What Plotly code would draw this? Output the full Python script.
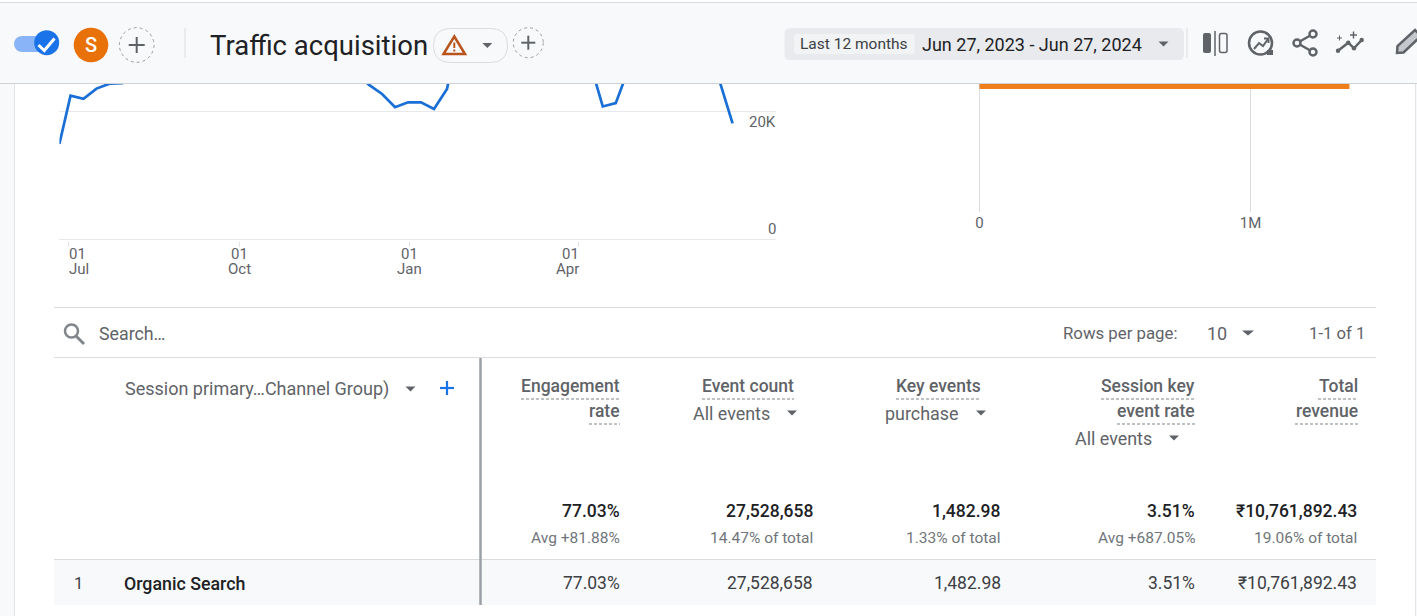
## GA4 traffic acquisition screen rebuilt with plotly
import pandas as pd
import plotly.graph_objects as go

W, H = 1417, 616
FONT = "Roboto"
GREY = "#5f6368"
DARK = "#202124"
RULE = "#dadce0"

## weekly sessions, the hidden stretches run behind the sticky header
week_dates = ["2023-06-26"] + [str(d.date()) for d in pd.date_range("2023-07-02", periods=52, freq="7D")]
week_sessions = [14900, 22450, 21950, 23550, 24300, 24400,
                 26000, 27500, 28500, 29500, 30500, 31000, 30500, 31500, 32000, 33000, 34500, 35000, 33500, 32000,
                 30500, 28500, 27000, 26000,
                 24110, 22700, 20625, 21400, 21400, 20360, 23480,
                 33000, 34000, 33500, 32000, 33000, 33500, 34000, 33000, 31000, 29000,
                 27730, 20750, 21270, 26700,
                 29500, 31500, 32500, 32000, 30000, 27500,
                 24700, 18100]

month_ticks = ["2023-07-01", "2023-10-01", "2024-01-01", "2024-04-01"]
month_days = ["01", "01", "01", "01"]
month_names = ["Jul", "Oct", "Jan", "Apr"]
month_anchor = ["left", "center", "center", "right"]

session_ticks = [0, 20000]
session_labels = ["0", "20K"]

channels = ["Organic Search"]
channel_sessions = [1365000]
bar_ticks = [0, 1000000]
bar_labels = ["0", "1M"]

total_values = ["77.03%", "27,528,658", "1,482.98", "3.51%", "₹10,761,892.43"]
total_notes = ["Avg +81.88%", "14.47% of total", "1.33% of total", "Avg +687.05%", "19.06% of total"]
row_values = ["77.03%", "27,528,658", "1,482.98", "3.51%", "₹10,761,892.43"]
column_right = [620, 813, 1001, 1195, 1357]


def px(x):
    return x / W


def py(y):
    return 1 - y / H


shapes = []
notes = []


def rect(x0, y0, x1, y1, fill, line=None, layer="above"):
    shapes.append(dict(type="rect", xref="paper", yref="paper", x0=px(x0), x1=px(x1), y0=py(y0), y1=py(y1),
                       fillcolor=fill, line=dict(color=line or fill, width=1 if line else 0), layer=layer))


def line(x0, y0, x1, y1, color=GREY, width=2, dash="solid"):
    shapes.append(dict(type="line", xref="paper", yref="paper", x0=px(x0), x1=px(x1), y0=py(y0), y1=py(y1),
                       line=dict(color=color, width=width, dash=dash)))


def circle(cx, cy, r, fill="rgba(0,0,0,0)", color=None, width=0, dash="solid"):
    shapes.append(dict(type="circle", xref="paper", yref="paper", x0=px(cx - r), x1=px(cx + r), y0=py(cy - r), y1=py(cy + r),
                       fillcolor=fill, line=dict(color=color or fill, width=width, dash=dash)))


def poly(points, fill=None, color=GREY, width=2, close=False):
    path = "M" + " L".join(f"{px(x):.5f},{py(y):.5f}" for x, y in points) + (" Z" if close else "")
    shapes.append(dict(type="path", xref="paper", yref="paper", path=path, fillcolor=fill or "rgba(0,0,0,0)",
                       line=dict(color=color, width=width)))


def round_rect(x0, y0, x1, y1, r, fill="rgba(0,0,0,0)", color=None, width=0):
    x0p, x1p, y0p, y1p = px(x0), px(x1), py(y0), py(y1)
    rx, ry = r / W, r / H
    path = (f"M{x0p + rx},{y0p} L{x1p - rx},{y0p} Q{x1p},{y0p} {x1p},{y0p - ry} L{x1p},{y1p + ry} "
            f"Q{x1p},{y1p} {x1p - rx},{y1p} L{x0p + rx},{y1p} Q{x0p},{y1p} {x0p},{y1p + ry} "
            f"L{x0p},{y0p - ry} Q{x0p},{y0p} {x0p + rx},{y0p} Z")
    shapes.append(dict(type="path", xref="paper", yref="paper", path=path, fillcolor=fill,
                       line=dict(color=color or fill, width=width)))


def caret(cx, cy, half=5, color=GREY):
    poly([(cx - half, cy - 2.5), (cx + half, cy - 2.5), (cx, cy + 2.5)], fill=color, color=color, width=0, close=True)


def plus(cx, cy, half, color=GREY, width=2):
    line(cx - half, cy, cx + half, cy, color, width)
    line(cx, cy - half, cx, cy + half, color, width)


def text(x, y, s, size=16, color=GREY, anchor="left", weight=400, family=FONT):
    notes.append(dict(xref="paper", yref="paper", x=px(x), y=py(y), text=s, showarrow=False, xanchor=anchor,
                      yanchor="middle", borderpad=0, borderwidth=0,
                      font=dict(family=family, size=size, color=color, weight=weight)))


fig = go.Figure()
fig.add_trace(go.Scatter(x=week_dates, y=week_sessions, mode="lines", xaxis="x", yaxis="y",
                         line=dict(color="#1a6fd6", width=2.7), hoverinfo="skip", showlegend=False))
fig.add_trace(go.Bar(x=channel_sessions, y=channels, orientation="h", xaxis="x2", yaxis="y2", width=0.8,
                     marker=dict(color="#ef7f1a", line=dict(width=0)), hoverinfo="skip", showlegend=False))

## gap in the gridlines right of the line chart
rect(733, 100, 738, 245, "#ffffff", layer="between")

## page edges
rect(0, 83, 14, 616, "#f8f9fa")
rect(1416, 83, 1417, 616, "#f8f9fa")
line(14.5, 83, 14.5, 616, "#e3e5e8", 1)
line(1415.5, 83, 1415.5, 616, "#e3e5e8", 1)

## header band
rect(0, 3, W, 83, "#f8f9fa")
line(0, 2.5, W, 2.5, RULE, 1)
line(0, 83.5, W, 83.5, "#cfd2d6", 1)

## toggle, avatar and add comparison
circle(22, 44, 8, "#8ab4f8")
rect(22, 36, 46, 52, "#8ab4f8")
circle(46.7, 42.7, 12.5, "#1a73e8")
poly([(38.5, 45), (44.3, 50.5), (54.5, 38.5)], color="#ffffff", width=3)
circle(91, 45, 17.3, "#e8710a")
text(91, 45.5, "S", 20, "#ffffff", "center", 500)
circle(136.7, 45, 17.3, "rgba(0,0,0,0)", "#9aa0a6", 1, "dot")
plus(136.7, 45, 8)
line(185, 28, 185, 58, RULE, 1)

## title and warning chip
text(210, 45.5, "Traffic acquisition", 27.5, DARK)
round_rect(433.5, 28.5, 507.5, 62.5, 17, "#f8f9fa", RULE, 1)
poly([(454.3, 36.5), (443.5, 54), (465, 54)], color="#b8541c", width=2.5, close=True)
line(454.3, 42.5, 454.3, 48, "#b8541c", 2)
line(454.3, 49.5, 454.3, 51.5, "#b8541c", 2)
caret(487.3, 45.5)
circle(528.3, 42.7, 15, "rgba(0,0,0,0)", "#9aa0a6", 1, "dot")
plus(528.3, 42.7, 7)

## date range chip
round_rect(784.5, 28, 1184, 60, 6, "#e8eaed")
round_rect(794, 34, 914.5, 54, 3, "#f1f3f4")
text(800, 44.5, "Last 12 months", 15.5, "#3c4043")
text(922, 44.5, "Jun 27, 2023 - Jun 27, 2024", 18, DARK)
caret(1163.5, 44)
line(1187, 28, 1187, 58, RULE, 1)

## toolbar icons
round_rect(1203, 33, 1211, 53, 2, GREY)
line(1215, 31, 1215, 56, GREY, 1.5)
round_rect(1219.5, 33.5, 1227, 52.5, 2, "rgba(0,0,0,0)", GREY, 1.5)
circle(1260.5, 43, 11.5, "rgba(0,0,0,0)", GREY, 2.5)
poly([(1254, 49), (1259, 43), (1263, 46), (1268, 39)], width=2)
poly([(1264, 38.5), (1268.5, 38.5), (1268.5, 43)], width=2)
rect(1267, 50, 1273, 55, GREY)
line(1297, 43, 1313, 34, GREY, 2.5)
line(1297, 43, 1313, 52, GREY, 2.5)
for cx, cy in [(1297, 43), (1313, 34), (1313, 52)]:
    circle(cx, cy, 3.5, "#f8f9fa", GREY, 2.5)
poly([(1338, 50.7), (1348.3, 42.7), (1354, 48.3), (1361.7, 40)], width=2.5)
for cx, cy in [(1338, 50.7), (1348.3, 42.7), (1354, 48.3), (1361.7, 40)]:
    circle(cx, cy, 2.2, GREY)
plus(1339.5, 38, 2.5, GREY, 1)
plus(1353.5, 35, 3.5, GREY, 1.5)
poly([(1397, 53), (1397.5, 46), (1415, 30), (1421, 36), (1403.5, 52.5)], fill="#c4c7cc", width=2.5, close=True)

## table rules and selected row
line(54, 307.5, 1376, 307.5, RULE, 1)
line(54, 357.5, 1376, 357.5, RULE, 1)
rect(54, 560, 1376, 605, "#f8f9fa")
line(54, 559.5, 1376, 559.5, RULE, 1)
line(480.5, 358, 480.5, 605, "#9aa0a6", 2.5)

## search row
circle(71.5, 331, 6.5, "rgba(0,0,0,0)", "#80868b", 2.5)
line(76, 336, 84, 344, "#80868b", 3)
text(99, 333, "Search…", 17.8, GREY)
text(1063, 333, "Rows per page:", 16.8, GREY)
text(1207, 333, "10", 18, GREY)
caret(1248, 333, 6)
text(1365, 333, "1-1 of 1", 16.7, GREY, "right")

## column headers
text(125, 389, "Session primary…Channel Group)", 18, GREY)
caret(410.5, 389)
plus(447, 388, 7, "#1a73e8", 2.2)
headers = [(620, 386, "Engagement"), (620, 411, "rate"), (794, 386, "Event count"), (981, 386, "Key events"),
           (1195, 386, "Session key"), (1195, 411, "event rate"), (1358, 386, "Total"), (1358, 411, "revenue")]
for x, y, s in headers:
    text(x, y, s, 17.5, GREY, "right", 500)
dashes = [(521, 620, 399), (589, 620, 424), (702, 794, 399), (896, 981, 399),
          (1101, 1195, 399), (1117, 1195, 424), (1318, 1358, 399), (1295, 1358, 424)]
for x0, x1, y in dashes:
    line(x0, y, x1, y, "#80868b", 1.2, "3px,2px")
text(693, 413.5, "All events", 17.9, GREY)
caret(792, 413)
text(885, 413.5, "purchase", 17.9, GREY)
caret(981, 413)
text(1075, 438.5, "All events", 17.9, GREY)
caret(1174, 438)

## totals and row
for right, total, note, value in zip(column_right, total_values, total_notes, row_values):
    text(right, 511, total, 17.5, DARK, "right", 500)
    text(right, 538, note, 15.5, "#70757a", "right")
    text(right, 583, value, 17.5, "#3c4043", "right")
text(74, 583, "1", 16.5, "#3c4043")
text(124, 583, channels[0], 17.8, DARK, "left", 500)

## axis labels for the line chart, placed by hand like the original
nudge = {"left": -2, "center": 0, "right": 2}
for tick, day, month, anchor in zip(month_ticks, month_days, month_names, month_anchor):
    for label, shift in [(day, 254), (month, 269)]:
        notes.append(dict(xref="x", yref="paper", x=tick, y=py(shift), text=label, showarrow=False, xanchor=anchor,
                          xshift=nudge[anchor], yanchor="middle", font=dict(family=FONT, size=15, color=GREY)))
for value, label, shift in zip(session_ticks, session_labels, [10, -11]):
    notes.append(dict(xref="paper", yref="y", x=px(778), y=value, yshift=shift, text=label, showarrow=False,
                      xanchor="right", yanchor="middle", font=dict(family=FONT, size=15, color=GREY)))

fig.update_layout(
    width=W, height=H, margin=dict(l=0, r=0, t=0, b=0, pad=0), autosize=False,
    paper_bgcolor="#ffffff", plot_bgcolor="rgba(0,0,0,0)", showlegend=False,
    font=dict(family=FONT, size=14, color=GREY),
    xaxis=dict(domain=[px(59.4), px(776)], range=["2023-06-26", "2024-07-16 10:00"], type="date", anchor="y",
               tickvals=month_ticks, showticklabels=False, ticks="outside", ticklen=5, tickcolor="#e0e3e7", tickwidth=1,
               showgrid=False, zeroline=False, fixedrange=True, automargin=False),
    yaxis=dict(domain=[py(240.6), py(83)], range=[-200, 24420], anchor="x", tickvals=session_ticks, showticklabels=False,
               showgrid=True, gridcolor="#e6e8eb", gridwidth=1, zeroline=False, fixedrange=True, automargin=False),
    xaxis2=dict(domain=[px(977.3), px(1376)], range=[-8000, 1463000], anchor="y2", tickvals=bar_ticks, ticktext=bar_labels,
                showgrid=True, gridcolor=RULE, gridwidth=1, zeroline=False, tickfont=dict(family=FONT, size=15, color=GREY),
                fixedrange=True, automargin=False),
    yaxis2=dict(domain=[py(212), py(83)], type="category", range=[-2.45, -0.3], anchor="x2", showticklabels=False,
                showgrid=False, zeroline=False, fixedrange=True, automargin=False),
    shapes=shapes, annotations=notes,
)

fig.write_html("out.html", config=dict(displayModeBar=False),
               post_script="document.body.style.margin='0';document.body.style.overflow='hidden';")
